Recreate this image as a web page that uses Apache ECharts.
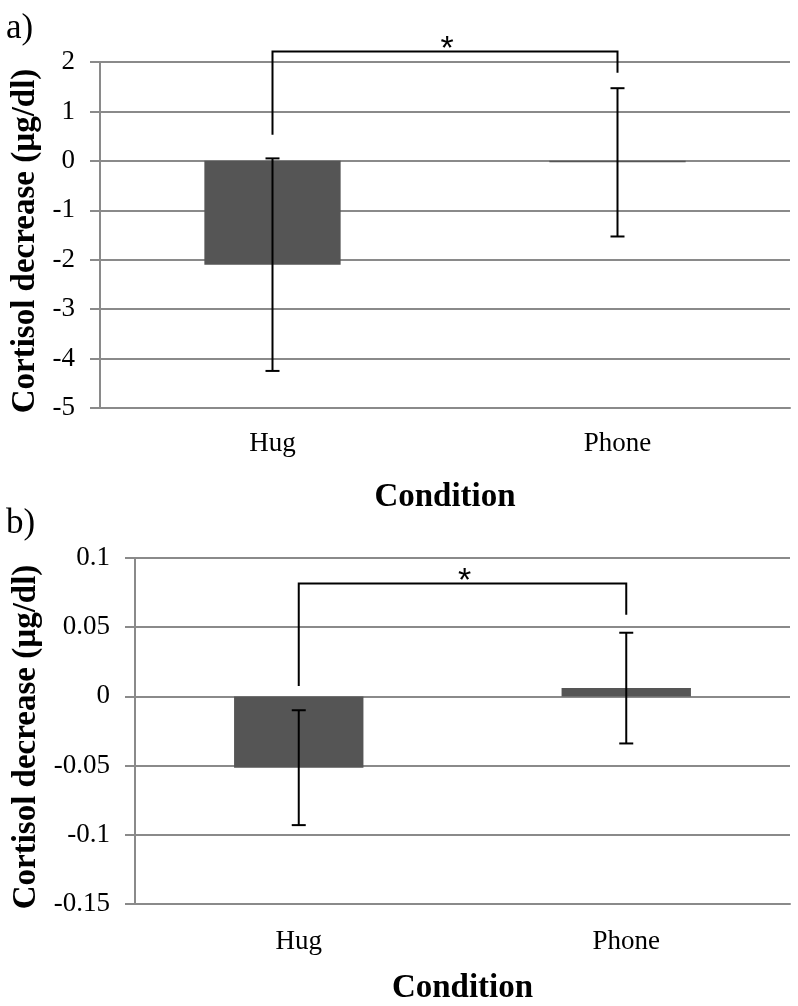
<!DOCTYPE html>
<html>
<head>
<meta charset="utf-8">
<script src="https://cdn.jsdelivr.net/npm/echarts@6/dist/echarts.min.js"></script>
<style>
html,body{margin:0;padding:0;background:#fff;}
#chart{width:798px;height:1006px;}
</style>
</head>
<body>
<div id="chart"></div>
<script>
// ---- data ----
const categories = ['Hug', 'Phone'];
// panel a
const meansA = [-2.10, -0.03];
const errA = [2.15, 1.50];
const bracketA = [0.53, 2.21, 1.78]; // left leg end, top, right leg end
// panel b
const meansB = [-0.0515, 0.006];
const errB = [0.0415, 0.040];
const bracketB = [0.0075, 0.0816, 0.059];
// axes
const yAxisA = { min: -5, max: 2, interval: 1 };
const yAxisB = { min: -0.15, max: 0.1, interval: 0.05 };
const panelLabels = ['a)', 'b)'];
const xName = 'Condition';
const yName = 'Cortisol decrease (µg/dl)';
const sigLabel = '*';

const SERIF = '"Liberation Serif", "Times New Roman", serif';
const GRID = '#8a8a8a';

function errorRender(params, api) {
  const x = api.value(0), m = api.value(1), e = api.value(2);
  const top = api.coord([x, m + e]);
  const bot = api.coord([x, m - e]);
  const hw = 7;
  const st = { stroke: '#000', lineWidth: 2 };
  return {
    type: 'group',
    children: [
      { type: 'line', shape: { x1: top[0], y1: top[1], x2: bot[0], y2: bot[1] }, style: st },
      { type: 'line', shape: { x1: top[0] - hw, y1: top[1], x2: top[0] + hw, y2: top[1] }, style: st },
      { type: 'line', shape: { x1: bot[0] - hw, y1: bot[1], x2: bot[0] + hw, y2: bot[1] }, style: st }
    ]
  };
}

function bracketRender(params, api) {
  const l = api.value(1), t = api.value(2), r = api.value(3);
  const p0 = api.coord([0, l]);
  const p1 = api.coord([0, t]);
  const p2 = api.coord([1, t]);
  const p3 = api.coord([1, r]);
  const mid = (p1[0] + p2[0]) / 2;
  return {
    type: 'group',
    children: [
      { type: 'polyline', shape: { points: [p0, p1, p2, p3] },
        style: { stroke: '#000', lineWidth: 2, fill: null } },
      { type: 'text', x: mid + 2, y: p1[1] - 2,
        style: { text: sigLabel, fontSize: 34, fontFamily: '"Liberation Sans", Arial, sans-serif',
                 fill: '#000', align: 'center', verticalAlign: 'middle' } }
    ]
  };
}

function xAxisCfg(gridIndex, labelMargin, nameGap) {
  return {
    type: 'category', gridIndex, data: categories,
    axisLine: { show: true, onZero: false, lineStyle: { color: GRID, width: 2 } },
    axisTick: { show: false },
    axisLabel: { color: '#000', fontFamily: SERIF, fontSize: 27, margin: labelMargin },
    name: xName, nameLocation: 'middle', nameGap,
    nameTextStyle: { color: '#000', fontFamily: SERIF, fontSize: 33, fontWeight: 'bold' }
  };
}

function yAxisCfg(gridIndex, ax, nameGap) {
  return {
    type: 'value', gridIndex, min: ax.min, max: ax.max, interval: ax.interval,
    axisLine: { show: true, lineStyle: { color: GRID, width: 2 } },
    axisTick: { show: true, length: 10, lineStyle: { color: GRID, width: 2 } },
    splitLine: { show: true, lineStyle: { color: GRID, width: 2 } },
    axisLabel: { color: '#000', fontFamily: SERIF, fontSize: 27, margin: 25 },
    name: yName, nameLocation: 'middle', nameGap,
    nameTextStyle: { color: '#000', fontFamily: SERIF, fontSize: 33, fontWeight: 'bold',
                     padding: [0, 12, 0, 0] }
  };
}

const chart = echarts.init(document.getElementById('chart'), null, { renderer: 'canvas' });
chart.setOption({
  animation: false,
  backgroundColor: '#fff',
  title: [
    { text: panelLabels[0], left: 6, top: 11, padding: 0,
      textStyle: { fontFamily: SERIF, fontSize: 35, fontWeight: 'normal', color: '#000' } },
    { text: panelLabels[1], left: 6, top: 506, padding: 0,
      textStyle: { fontFamily: SERIF, fontSize: 35, fontWeight: 'normal', color: '#000' } }
  ],
  grid: [
    { left: 100, top: 62, width: 690, height: 346 },
    { left: 135, top: 558, width: 655, height: 346 }
  ],
  xAxis: [xAxisCfg(0, 22, 73), xAxisCfg(1, 24, 68)],
  yAxis: [yAxisCfg(0, yAxisA, 55), yAxisCfg(1, yAxisB, 90)],
  series: [
    { type: 'bar', xAxisIndex: 0, yAxisIndex: 0, data: meansA, barWidth: '39.5%',
      itemStyle: { color: '#555555' }, z: 2 },
    { type: 'custom', xAxisIndex: 0, yAxisIndex: 0, clip: false, z: 3,
      data: categories.map((c, i) => [i, meansA[i], errA[i]]), renderItem: errorRender },
    { type: 'custom', xAxisIndex: 0, yAxisIndex: 0, clip: false, z: 3,
      data: [[0, bracketA[0], bracketA[1], bracketA[2]]], renderItem: bracketRender },
    { type: 'bar', xAxisIndex: 1, yAxisIndex: 1, data: meansB, barWidth: '39.5%',
      itemStyle: { color: '#555555' }, z: 2 },
    { type: 'custom', xAxisIndex: 1, yAxisIndex: 1, clip: false, z: 3,
      data: categories.map((c, i) => [i, meansB[i], errB[i]]), renderItem: errorRender },
    { type: 'custom', xAxisIndex: 1, yAxisIndex: 1, clip: false, z: 3,
      data: [[0, bracketB[0], bracketB[1], bracketB[2]]], renderItem: bracketRender }
  ]
});
</script>
</body>
</html>
